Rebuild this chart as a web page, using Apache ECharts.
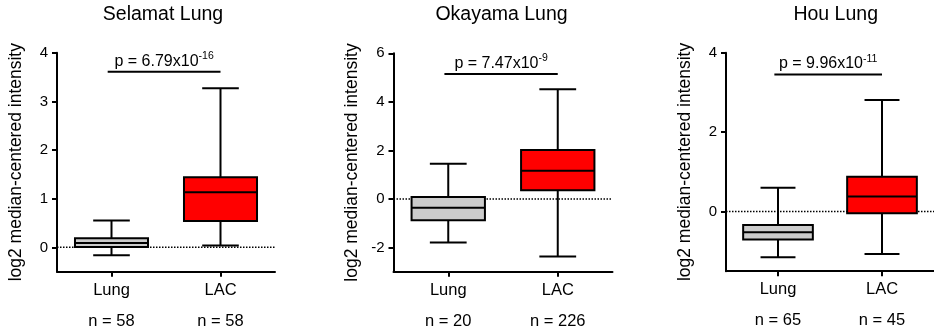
<!DOCTYPE html>
<html>
<head>
<meta charset="utf-8">
<script src="https://cdn.jsdelivr.net/npm/echarts@6/dist/echarts.min.js"></script>
<style>html,body{margin:0;padding:0;background:#fff}#c{width:934px;height:334px}</style>
</head>
<body>
<div id="c"></div>
<script>
// ---- data ----
const categories = ['Lung', 'LAC'];
const titles = ['Selamat Lung', 'Okayama Lung', 'Hou Lung'];
// [low, q1, median, q3, high]
const selamatLung = [-0.16, 0.01, 0.09, 0.185, 0.55];
const selamatLAC  = [0.04, 0.54, 1.13, 1.44, 3.27];
const okayamaLung = [-1.8, -0.88, -0.36, 0.08, 1.45];
const okayamaLAC  = [-2.37, 0.36, 1.16, 2.02, 4.52];
const houLung     = [-1.15, -0.70, -0.52, -0.335, 0.60];
const houLAC      = [-1.07, -0.04, 0.38, 0.88, 2.81];
const nSelamat = [58, 58];
const nOkayama = [20, 226];
const nHou = [65, 45];
const pBase = ['6.79', '7.47', '9.96'];
const pExp = ['-16', '-9', '-11'];
const sigY = [3.61, 5.15, 3.45];
const yMin = [-0.5, -3, -1.5];
const yMax = [4, 6, 4];
const yTicks1 = [0, 1, 2, 3, 4];
const yTicks2 = [-2, 0, 2, 4, 6];
const yTicks3 = [0, 2, 4];

const panels = [
  { boxes: [selamatLung, selamatLAC], n: nSelamat, ticks: yTicks1 },
  { boxes: [okayamaLung, okayamaLAC], n: nOkayama, ticks: yTicks2 },
  { boxes: [houLung, houLAC], n: nHou, ticks: yTicks3 }
];

const FONT = 'Liberation Sans, Arial, sans-serif';
const grids = [
  { left: 57, top: 52.7, width: 218, height: 219 },
  { left: 393.5, top: 53.3, width: 219, height: 218.4 },
  { left: 726, top: 52.7, width: 219.4, height: 218.5 }
];
const titleX = [163, 501.5, 835.7];
const fills = ['#cccccc', '#ff0000'];

function renderBox(params, api) {
  const idx = api.value(0);
  const low = api.coord([idx, api.value(1)]);
  const q1 = api.coord([idx, api.value(2)]);
  const med = api.coord([idx, api.value(3)]);
  const q3 = api.coord([idx, api.value(4)]);
  const high = api.coord([idx, api.value(5)]);
  const band = api.size([1, 0])[0];
  const bw = band * 0.67, cw = band * 0.336;
  const x = low[0];
  const st = { stroke: '#000', lineWidth: 2, fill: null };
  return {
    type: 'group',
    children: [
      { type: 'line', shape: { x1: x, y1: high[1], x2: x, y2: q3[1] }, style: st },
      { type: 'line', shape: { x1: x, y1: q1[1], x2: x, y2: low[1] }, style: st },
      { type: 'line', shape: { x1: x - cw / 2, y1: high[1], x2: x + cw / 2, y2: high[1] }, style: st },
      { type: 'line', shape: { x1: x - cw / 2, y1: low[1], x2: x + cw / 2, y2: low[1] }, style: st },
      { type: 'rect', shape: { x: x - bw / 2, y: q3[1], width: bw, height: q1[1] - q3[1] },
        style: { stroke: '#000', lineWidth: 2, fill: fills[idx] } },
      { type: 'line', shape: { x1: x - bw / 2, y1: med[1], x2: x + bw / 2, y2: med[1] }, style: st }
    ]
  };
}

function renderZero(params, api) {
  const cs = params.coordSys;
  const y = api.coord([0, 0])[1];
  return { type: 'line', shape: { x1: cs.x, y1: y, x2: cs.x + cs.width, y2: y },
    style: { stroke: '#000', lineWidth: 1.5, lineDash: [1.5, 1.5] } };
}

function makeSig(pi) {
  return function (params, api) {
    const y = api.value(0);
    const p0 = api.coord([0, y]);
    const p1 = api.coord([1, y]);
    const band = api.size([1, 0])[0];
    const xl = p0[0] - band * 0.035, xr = p1[0];
    return {
      type: 'group',
      children: [
        { type: 'line', shape: { x1: xl, y1: p0[1], x2: xr, y2: p0[1] }, style: { stroke: '#000', lineWidth: 2 } },
        { type: 'text', x: (xl + xr) / 2, y: p0[1] - 2.5,
          style: {
            text: '{a|p = ' + pBase[pi] + 'x10}{s|' + pExp[pi] + '}',
            textAlign: 'center', textVerticalAlign: 'bottom', fill: '#000',
            rich: {
              a: { fontSize: 16, fontFamily: FONT, color: '#000', verticalAlign: 'bottom', lineHeight: 18 },
              s: { fontSize: 10.5, fontFamily: FONT, color: '#000', verticalAlign: 'bottom', lineHeight: 18, padding: [0, 0, 7.5, 0] }
            }
          } }
      ]
    };
  };
}

const xAxis = [], yAxis = [], series = [], graphic = [];
panels.forEach((p, i) => {
  xAxis.push({
    type: 'category', gridIndex: i, data: categories, boundaryGap: true,
    axisLine: { show: true, onZero: false, lineStyle: { color: '#000', width: 2 } },
    axisTick: { show: true, alignWithLabel: true, length: 5, lineStyle: { color: '#000', width: 2 } },
    splitLine: { show: false },
    axisLabel: {
      margin: 3, interval: 0,
      formatter: (v, idx) => '{c|' + v + '}\n{n|n = ' + p.n[idx] + '}',
      rich: {
        c: { fontSize: 16.5, fontFamily: FONT, color: '#000', lineHeight: 31 },
        n: { fontSize: 16.5, fontFamily: FONT, color: '#000', lineHeight: 31 }
      }
    }
  });
  yAxis.push({
    type: 'value', gridIndex: i, min: yMin[i], max: yMax[i],
    axisLine: { show: true, onZero: false, lineStyle: { color: '#000', width: 2 } },
    axisTick: { show: true, length: 5, customValues: p.ticks, lineStyle: { color: '#000', width: 2 } },
    axisLabel: { customValues: p.ticks, margin: 9, fontSize: 15, fontFamily: FONT, color: '#000' },
    splitLine: { show: false },
    name: 'log2 median-centered intensity', nameLocation: 'middle', nameGap: 32,
    nameTextStyle: { fontSize: 17.5, fontFamily: FONT, color: '#000' }
  });
  series.push({
    type: 'custom', xAxisIndex: i, yAxisIndex: i, z: 1, silent: true,
    renderItem: renderZero, data: [[0, 0]], encode: { x: 0, y: 1 }
  });
  series.push({
    type: 'custom', xAxisIndex: i, yAxisIndex: i, z: 2, silent: true,
    renderItem: renderBox,
    data: p.boxes.map((b, k) => [k].concat(b)),
    encode: { x: 0, y: [1, 2, 3, 4, 5] }
  });
  series.push({
    type: 'custom', xAxisIndex: i, yAxisIndex: i, z: 3, silent: true,
    renderItem: makeSig(i), data: [[sigY[i]]], encode: { y: 0 }
  });
  graphic.push({
    type: 'text', x: titleX[i], y: 4.5,
    style: { text: titles[i], textAlign: 'center', textVerticalAlign: 'top', fontSize: 19.5, fontFamily: FONT, fill: '#000' }
  });
});

const chart = echarts.init(document.getElementById('c'), null, { renderer: 'canvas' });
chart.setOption({
  backgroundColor: '#fff',
  animation: false,
  grid: grids.map(g => Object.assign({ containLabel: false }, g)),
  xAxis, yAxis, series, graphic
});
</script>
</body>
</html>
